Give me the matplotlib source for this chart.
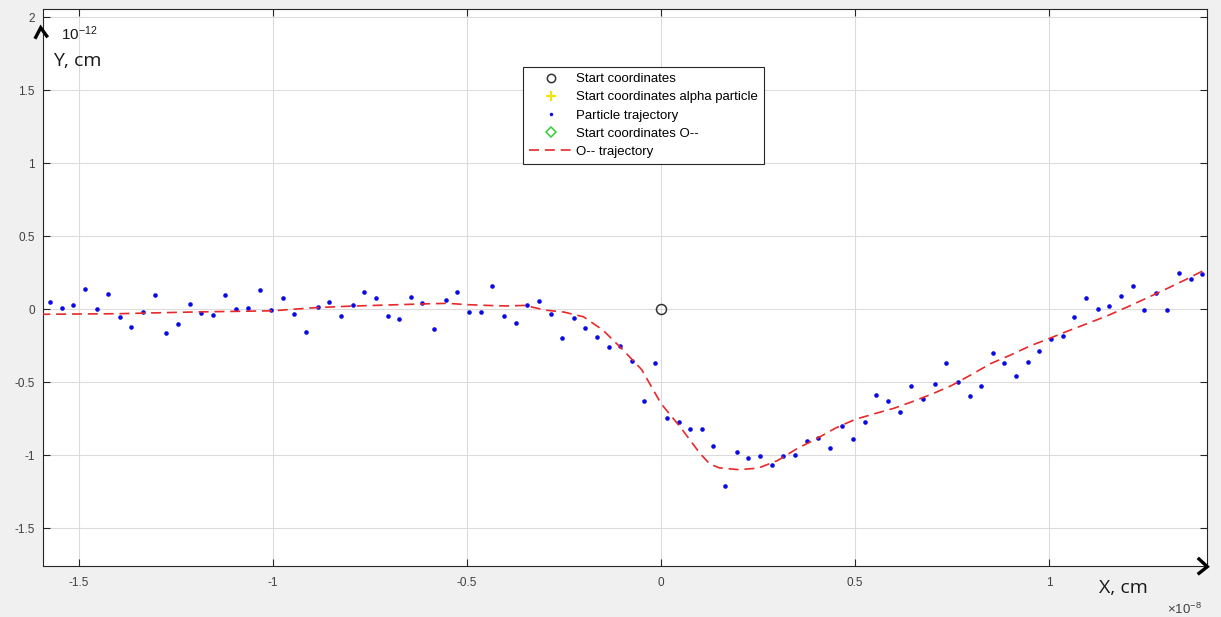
import matplotlib
matplotlib.use('Agg')
import matplotlib.pyplot as plt
from matplotlib.lines import Line2D
from matplotlib.ticker import FuncFormatter

# Particle trajectory points (x in 1e-8 cm, y in 1e-12 cm)
traj_x = [-1.575, -1.545, -1.515, -1.485, -1.455, -1.425, -1.395, -1.365, -1.335, -1.305,
          -1.275, -1.245, -1.215, -1.185, -1.155, -1.125, -1.095, -1.065, -1.035, -1.005,
          -0.975, -0.945, -0.915, -0.885, -0.855, -0.825, -0.795, -0.765, -0.735, -0.705,
          -0.675, -0.645, -0.615, -0.585, -0.555, -0.525, -0.495, -0.465, -0.435, -0.405,
          -0.375, -0.345, -0.315, -0.285, -0.255, -0.225, -0.195, -0.165, -0.135, -0.105,
          -0.075, -0.045, -0.015, 0.015, 0.045, 0.075, 0.105, 0.135, 0.165, 0.195,
          0.225, 0.255, 0.285, 0.315, 0.345, 0.375, 0.405, 0.435, 0.465, 0.495,
          0.525, 0.555, 0.585, 0.615, 0.645, 0.675, 0.705, 0.735, 0.765, 0.795,
          0.825, 0.855, 0.885, 0.915, 0.945, 0.975, 1.005, 1.035, 1.065, 1.095,
          1.125, 1.155, 1.185, 1.215, 1.245, 1.275, 1.305, 1.335, 1.365, 1.395]
traj_y = [0.046, 0.009, 0.025, 0.137, 0.002, 0.100, -0.053, -0.120, -0.023, 0.094,
          -0.167, -0.105, 0.032, -0.027, -0.043, 0.094, -0.002, 0.009, 0.130, -0.005,
          0.073, -0.032, -0.158, 0.014, 0.046, -0.046, 0.027, 0.120, 0.078, -0.050,
          -0.069, 0.085, 0.041, -0.137, 0.064, 0.120, -0.018, -0.021, 0.156, -0.048,
          -0.096, 0.025, 0.055, -0.032, -0.195, -0.060, -0.128, -0.190, -0.259, -0.250,
          -0.355, -0.630, -0.371, -0.744, -0.774, -0.825, -0.820, -0.937, -1.212, -0.981,
          -1.019, -1.008, -1.070, -1.010, -0.999, -0.905, -0.884, -0.953, -0.802, -0.893,
          -0.772, -0.586, -0.628, -0.708, -0.529, -0.614, -0.511, -0.367, -0.497, -0.596,
          -0.529, -0.298, -0.373, -0.458, -0.360, -0.286, -0.204, -0.186, -0.057, 0.076,
          -0.002, 0.018, 0.092, 0.158, -0.005, 0.110, -0.005, 0.245, 0.208, 0.243]

# O-- trajectory
o_x = [-1.60, -1.40, -1.20, -1.00, -0.90, -0.80, -0.70, -0.60, -0.55, -0.50,
       -0.45, -0.40, -0.35, -0.30, -0.25, -0.20, -0.15, -0.10, -0.05, 0.00,
       0.05, 0.10, 0.125, 0.15, 0.20, 0.25, 0.30, 0.35, 0.40, 0.45,
       0.50, 0.55, 0.60, 0.65, 0.70, 0.75, 0.80, 0.85, 0.90, 0.95,
       1.00, 1.05, 1.10, 1.15, 1.20, 1.25, 1.30, 1.35, 1.405]
o_y = [-0.036, -0.032, -0.020, -0.012, 0.008, 0.020, 0.028, 0.036, 0.039, 0.030,
       0.025, 0.021, 0.025, -0.007, -0.021, -0.053, -0.144, -0.275, -0.415, -0.648,
       -0.810, -0.988, -1.060, -1.088, -1.100, -1.090, -1.038, -0.957, -0.889, -0.815,
       -0.756, -0.717, -0.680, -0.632, -0.580, -0.522, -0.449, -0.373, -0.316, -0.254,
       -0.202, -0.149, -0.098, -0.046, 0.012, 0.073, 0.135, 0.199, 0.273]

# Start coordinates
start_x = [0.0]
start_y = [0.0]

x_ticks = [-1.5, -1, -0.5, 0, 0.5, 1]
y_ticks = [-1.5, -1, -0.5, 0, 0.5, 1, 1.5, 2]

plt.rcParams['font.family'] = ['Liberation Sans', 'DejaVu Sans']
plt.rcParams['axes.unicode_minus'] = False

W, H = 1221, 617
fig = plt.figure(figsize=(W / 100, H / 100), dpi=100, facecolor='#f0f0f0')
ax = fig.add_axes([43 / W, 1 - 566 / H, 1164 / W, 557 / H])
ax.set_facecolor('white')

ax.plot(start_x, start_y, 'o', mfc='none', mec='#333333', ms=7.2, mew=1.1, zorder=4)
ax.plot(traj_x, traj_y, 'o', color='#0a0ae6', ms=3.3, mew=0, zorder=3)
ax.plot(o_x, o_y, color='#e8282a', lw=1.2, dashes=(6, 3.5), zorder=5)

ax.set_xlim(-1.593, 1.407)
ax.set_ylim(-1.76, 2.055)
ax.set_xticks(x_ticks)
ax.set_yticks(y_ticks)
fmt = FuncFormatter(lambda v, p: '%g' % v)
ax.xaxis.set_major_formatter(fmt)
ax.yaxis.set_major_formatter(fmt)
ax.tick_params(direction='in', length=5, width=0.8, colors='#262626',
               labelcolor='#404040', labelsize=8.5, top=True, right=True)
ax.tick_params(axis='x', pad=8)
ax.tick_params(axis='y', pad=6)
ax.grid(True, color='#dcdcdc', lw=0.8)
ax.set_axisbelow(True)
for s in ax.spines.values():
    s.set_color('#262626')
    s.set_linewidth(0.8)

handles = [
    Line2D([], [], ls='none', marker='o', mfc='none', mec='#333333', ms=6, mew=1.1),
    Line2D([], [], ls='none', marker='+', color='#f2e600', ms=7, mew=1.5),
    Line2D([], [], ls='none', marker='o', color='#0a0ae6', ms=2.5, mew=0),
    Line2D([], [], ls='none', marker='D', mfc='none', mec='#33cc33', ms=5, mew=1.1),
    Line2D([], [], color='#e8282a', lw=1.2, dashes=(6, 3.5)),
]
labels = ['Start coordinates', 'Start coordinates alpha particle', 'Particle trajectory',
          'Start coordinates O--', 'O-- trajectory']
leg = ax.legend(handles, labels, loc='upper left',
                bbox_to_anchor=((523 - 43) / 1164, 1 - (67 - 9) / 557),
                borderaxespad=0, fontsize=9.5, numpoints=1, handlelength=3.3,
                handletextpad=0.3, labelspacing=0.45, borderpad=0.45,
                fancybox=False, framealpha=1, edgecolor='#262626')
leg.get_frame().set_linewidth(0.8)

# axis annotations
fig.text(61 / W, 1 - 40 / H, r'$\mathregular{10^{-12}}$', fontsize=11, va='baseline', color='#1a1a1a')
fig.text(53 / W, 1 - 61 / H, 'Y, cm', fontsize=14, family=['Open Sans', 'DejaVu Sans'],
         va='center', color='#1a1a1a')
fig.text(1099 / W, 1 - 588 / H, 'X, cm', fontsize=14, family=['Open Sans', 'DejaVu Sans'],
         va='center', color='#1a1a1a')
fig.text(1167 / W, 1 - 614 / H, r'$\mathregular{\times 10^{-8}}$', fontsize=9.5,
         va='baseline', color='#404040')

# hand-drawn arrow heads at the axis ends
fig.add_artist(Line2D([35.7 / W, 40.7 / W, 46.7 / W], [1 - 37.3 / H, 1 - 27.7 / H, 1 - 36 / H],
                      color='black', lw=2.4, solid_joinstyle='miter', transform=fig.transFigure))
fig.add_artist(Line2D([1199 / W, 1207.3 / W, 1199 / W], [1 - 559 / H, 1 - 566.7 / H, 1 - 573.3 / H],
                      color='black', lw=2.4, solid_joinstyle='miter', transform=fig.transFigure))

fig.savefig('out.png', dpi=100, facecolor=fig.get_facecolor())
